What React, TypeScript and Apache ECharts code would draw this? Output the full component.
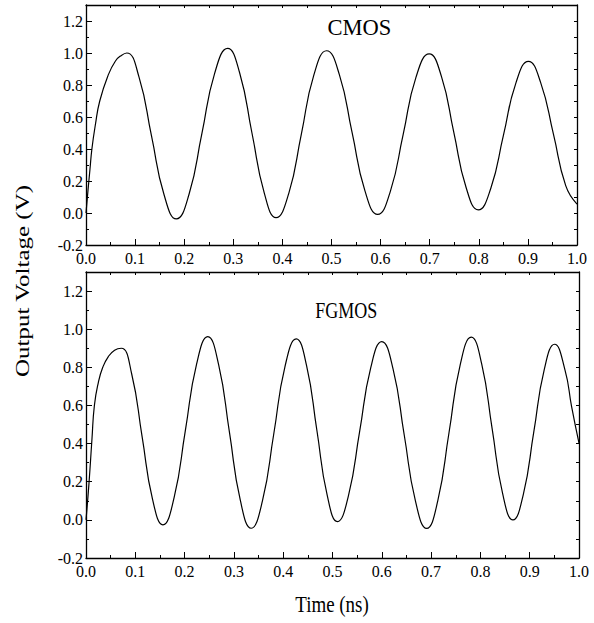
import React, { useEffect, useRef } from "react";
import * as echarts from "echarts";

const cmosTime = [0, 0.004, 0.008, 0.012, 0.019, 0.028, 0.045, 0.06, 0.072, 0.083, 0.108, 0.1335, 0.159, 0.184, 0.21, 0.236, 0.262, 0.2885, 0.313, 0.338, 0.363, 0.387, 0.413, 0.4385, 0.464, 0.49, 0.516, 0.542, 0.568, 0.594, 0.62, 0.646, 0.672, 0.699, 0.724, 0.749, 0.774, 0.799, 0.8245, 0.85, 0.8755, 0.901, 0.926, 0.952, 0.977, 1.0];
const cmosVolt = [0, 0.14, 0.27, 0.4, 0.55, 0.7, 0.86, 0.95, 0.985, 1.0, 0.849, 0.48, 0.114, -0.037, 0.119, 0.496, 0.873, 1.029, 0.875, 0.5, 0.126, -0.029, 0.123, 0.492, 0.862, 1.014, 0.865, 0.502, 0.14, -0.009, 0.137, 0.492, 0.848, 0.994, 0.852, 0.506, 0.161, 0.019, 0.155, 0.483, 0.812, 0.948, 0.815, 0.493, 0.171, 0.056];

const fgmosTime = [0, 0.006, 0.012, 0.017, 0.025, 0.034, 0.045, 0.058, 0.0716, 0.0927, 0.1138, 0.1349, 0.156, 0.1788, 0.2015, 0.2243, 0.247, 0.269, 0.291, 0.313, 0.335, 0.358, 0.381, 0.4036, 0.4265, 0.4474, 0.4683, 0.4891, 0.51, 0.5325, 0.555, 0.5775, 0.6, 0.6228, 0.6455, 0.6683, 0.691, 0.7136, 0.7363, 0.7589, 0.7815, 0.8026, 0.8238, 0.8449, 0.866, 0.8871, 0.9083, 0.9294, 0.9505, 0.9715, 0.985, 1.0];
const fgmosVolt = [0, 0.19, 0.42, 0.6, 0.72, 0.8, 0.855, 0.89, 0.9, 0.765, 0.437, 0.109, -0.026, 0.118, 0.468, 0.817, 0.961, 0.814, 0.459, 0.103, -0.044, 0.101, 0.453, 0.804, 0.949, 0.809, 0.47, 0.131, -0.009, 0.129, 0.463, 0.797, 0.935, 0.792, 0.445, 0.098, -0.045, 0.101, 0.457, 0.812, 0.958, 0.818, 0.479, 0.14, 0.0, 0.134, 0.461, 0.787, 0.921, 0.787, 0.594, 0.402];

const panelLabels = ["CMOS", "FGMOS"];
const xTitle = "Time (ns)";
const yTitle = "Output Voltage (V)";

const FONT = "Liberation Serif";
const BLACK = "#000";

function zip(t: number[], v: number[]) {
  return t.map((x, i) => [x, v[i]]);
}

function xAxesFor(grid: number) {
  return [
    {
      type: "value", gridIndex: grid, position: "bottom", min: 0, max: 1, interval: 0.1,
      axisLine: { show: true, onZero: false, lineStyle: { color: BLACK, width: 1.3 } },
      axisTick: { show: true, inside: true, length: 6, lineStyle: { color: BLACK, width: 1 } },
      axisLabel: { show: true, color: BLACK, fontFamily: FONT, fontSize: 16, margin: 5, formatter: (v: number) => v.toFixed(1) },
      splitLine: { show: false },
    },
    {
      type: "value", gridIndex: grid, position: "bottom", min: 0, max: 1, interval: 0.05,
      axisLine: { show: false, onZero: false },
      axisTick: { show: true, inside: true, length: 3, lineStyle: { color: BLACK, width: 1 } },
      axisLabel: { show: false },
      splitLine: { show: false },
    },
    {
      type: "value", gridIndex: grid, position: "top", min: 0, max: 1, interval: 0.05,
      axisLine: { show: true, onZero: false, lineStyle: { color: BLACK, width: 1.3 } },
      axisTick: { show: true, inside: true, length: 3, lineStyle: { color: BLACK, width: 1 } },
      axisLabel: { show: false },
      splitLine: { show: false },
    },
  ];
}

function yAxesFor(grid: number) {
  return [
    {
      type: "value", gridIndex: grid, position: "left", min: -0.2, max: 1.3, interval: 0.2,
      axisLine: { show: true, onZero: false, lineStyle: { color: BLACK, width: 1.3 } },
      axisTick: { show: true, inside: true, length: 6, lineStyle: { color: BLACK, width: 1 } },
      axisLabel: {
        show: true, color: BLACK, fontFamily: FONT, fontSize: 16, margin: 3,
        formatter: (v: number) => (v > 1.25 ? "" : v.toFixed(1)),
      },
      splitLine: { show: false },
    },
    {
      type: "value", gridIndex: grid, position: "left", min: -0.2, max: 1.3, interval: 0.1,
      axisLine: { show: false, onZero: false },
      axisTick: { show: true, inside: true, length: 3, lineStyle: { color: BLACK, width: 1 } },
      axisLabel: { show: false },
      splitLine: { show: false },
    },
    {
      type: "value", gridIndex: grid, position: "right", min: -0.2, max: 1.3, interval: 0.1,
      axisLine: { show: true, onZero: false, lineStyle: { color: BLACK, width: 1.3 } },
      axisTick: { show: true, inside: true, length: 3, lineStyle: { color: BLACK, width: 1 } },
      axisLabel: { show: false },
      splitLine: { show: false },
    },
  ];
}

export default function App() {
  const ref = useRef<HTMLDivElement>(null);
  useEffect(() => {
    if (!ref.current) return;
    const chart = echarts.init(ref.current, null, { renderer: "svg" });
    chart.setOption({
      animation: false,
      backgroundColor: "#fff",
      grid: [
        { left: 86, right: 17, top: 5, height: 240 },
        { left: 86, right: 15, top: 272, height: 286 },
      ],
      xAxis: [...xAxesFor(0), ...xAxesFor(1)],
      yAxis: [...yAxesFor(0), ...yAxesFor(1)],
      series: [
        {
          type: "line", xAxisIndex: 0, yAxisIndex: 0, data: zip(cmosTime, cmosVolt),
          smooth: 0.5, showSymbol: false, lineStyle: { color: BLACK, width: 1.2 },
        },
        {
          type: "line", xAxisIndex: 3, yAxisIndex: 3, data: zip(fgmosTime, fgmosVolt),
          smooth: 0.5, showSymbol: false, lineStyle: { color: BLACK, width: 1.2 },
        },
      ],
      graphic: [
        {
          type: "text", x: 359.5, y: 27.5,
          style: { text: panelLabels[0], fontFamily: FONT, fontSize: 22.5, fill: BLACK, textAlign: "center", textVerticalAlign: "middle" },
        },
        {
          type: "text", x: 346.2, y: 310, scaleX: 0.8,
          style: { text: panelLabels[1], fontFamily: FONT, fontSize: 22.5, fill: BLACK, textAlign: "center", textVerticalAlign: "middle" },
        },
        {
          type: "text", x: 332, y: 604, scaleX: 0.79,
          style: { text: xTitle, fontFamily: FONT, fontSize: 24, fill: BLACK, textAlign: "center", textVerticalAlign: "middle" },
        },
        {
          type: "text", x: 22, y: 281, rotation: Math.PI / 2, scaleY: 0.79,
          style: { text: yTitle, fontFamily: FONT, fontSize: 25, fill: BLACK, textAlign: "center", textVerticalAlign: "middle" },
        },
      ],
    });
    return () => chart.dispose();
  }, []);
  return <div ref={ref} style={{ position: "fixed", left: 0, top: 0, width: 594, height: 623 }} />;
}
